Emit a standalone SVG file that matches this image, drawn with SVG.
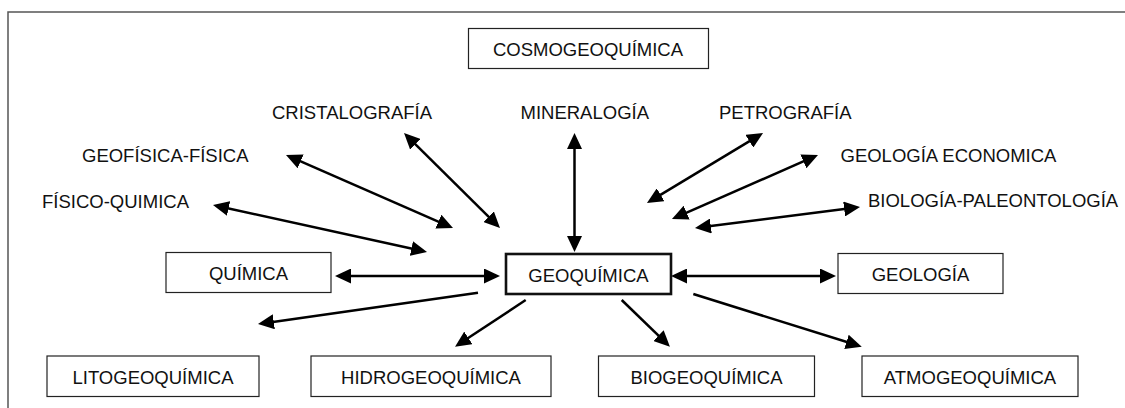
<svg xmlns="http://www.w3.org/2000/svg" width="1125" height="408" viewBox="0 0 1125 408">
  <style>
    .lbl { font-family: "Liberation Sans", Arial, sans-serif; font-size: 18.5px; fill: #111; }
    .mid { text-anchor: middle; }
    .box { fill: #fff; stroke: #222; stroke-width: 1.2; }
    .main { fill: #fff; stroke: #111; stroke-width: 2.6; }
    .arw { stroke: #000; stroke-width: 2.5; fill: none; }
    .both { marker-start: url(#head); marker-end: url(#head); }
    .one { marker-end: url(#head); }
  </style>
  <defs>
    <marker id="head" markerUnits="userSpaceOnUse" markerWidth="16" markerHeight="15" refX="8" refY="7.5" orient="auto-start-reverse">
      <path d="M0,0 L16,7.5 L0,15 z" fill="#000"/>
    </marker>
  </defs>

  <!-- page frame -->
  <rect x="8" y="12" width="1140" height="420" fill="#fff" stroke="#555" stroke-width="1.5"/>

  <!-- connectors -->
  <g id="connectors">
    <line class="arw both" x1="409.7" y1="138.6" x2="494.3" y2="222.4"/>
    <line class="arw both" x1="293.3" y1="158.2" x2="445.7" y2="224.8"/>
    <line class="arw both" x1="220.8" y1="206.7" x2="419.2" y2="250.3"/>
    <line class="arw both" x1="574.5" y1="141" x2="574.5" y2="244"/>
    <line class="arw both" x1="756.2" y1="137.1" x2="653.8" y2="198.9"/>
    <line class="arw both" x1="810.7" y1="158.2" x2="679.3" y2="215.8"/>
    <line class="arw both" x1="852.1" y1="208" x2="702.9" y2="227"/>
    <line class="arw both" x1="343" y1="276" x2="492" y2="276"/>
    <line class="arw both" x1="679" y1="276" x2="828" y2="276"/>
    <line class="arw one" x1="478" y1="292.7" x2="265.9" y2="322.9"/>
    <line class="arw one" x1="525.7" y1="300" x2="461.7" y2="342.3"/>
    <line class="arw one" x1="621.7" y1="300" x2="664.2" y2="341.1"/>
    <line class="arw one" x1="693.3" y1="294" x2="854.1" y2="344.3"/>
  </g>

  <!-- boxed nodes -->
  <g id="cosmogeoquimica">
    <rect class="box" x="468.5" y="28.5" width="240" height="40"/>
    <text class="lbl mid" x="588" y="56">COSMOGEOQUÍMICA</text>
  </g>
  <g id="quimica">
    <rect class="box" x="166" y="252.5" width="165" height="40"/>
    <text class="lbl mid" x="248.5" y="280">QUÍMICA</text>
  </g>
  <g id="geoquimica">
    <rect class="main" x="506" y="254" width="165" height="40"/>
    <text class="lbl mid" x="588.5" y="281.5">GEOQUÍMICA</text>
  </g>
  <g id="geologia">
    <rect class="box" x="838" y="253.5" width="165" height="40"/>
    <text class="lbl mid" x="920.5" y="280.5">GEOLOGÍA</text>
  </g>
  <g id="litogeoquimica">
    <rect class="box" x="47" y="356" width="212" height="40.5"/>
    <text class="lbl mid" x="153" y="384">LITOGEOQUÍMICA</text>
  </g>
  <g id="hidrogeoquimica">
    <rect class="box" x="311" y="356" width="240" height="40.5"/>
    <text class="lbl mid" x="431" y="384">HIDROGEOQUÍMICA</text>
  </g>
  <g id="biogeoquimica">
    <rect class="box" x="598.5" y="356" width="216" height="40.5"/>
    <text class="lbl mid" x="706.5" y="384">BIOGEOQUÍMICA</text>
  </g>
  <g id="atmogeoquimica">
    <rect class="box" x="862" y="356" width="216" height="40.5"/>
    <text class="lbl mid" x="970" y="384">ATMOGEOQUÍMICA</text>
  </g>

  <!-- free labels -->
  <g id="cristalografia"><text class="lbl" x="272" y="119">CRISTALOGRAFÍA</text></g>
  <g id="mineralogia"><text class="lbl" x="520.5" y="119">MINERALOGÍA</text></g>
  <g id="petrografia"><text class="lbl" x="719" y="119">PETROGRAFÍA</text></g>
  <g id="geofisica-fisica"><text class="lbl" x="82" y="162">GEOFÍSICA-FÍSICA</text></g>
  <g id="geologia-economica"><text class="lbl" x="840.5" y="162">GEOLOGÍA ECONOMICA</text></g>
  <g id="fisico-quimica"><text class="lbl" x="42" y="208">FÍSICO-QUIMICA</text></g>
  <g id="biologia-paleontologia"><text class="lbl" x="868" y="207">BIOLOGÍA-PALEONTOLOGÍA</text></g>
</svg>
